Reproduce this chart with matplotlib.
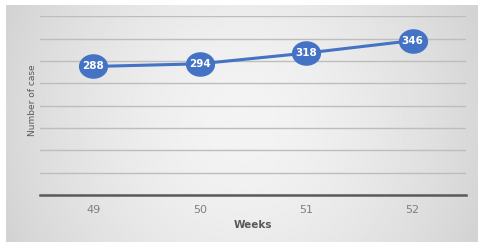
import matplotlib
matplotlib.use("Agg")
import matplotlib.pyplot as plt
import numpy as np
from matplotlib.path import Path

weeks = ["49", "50", "51", "52"]
cases = [288, 294, 318, 346]

LINE_COLOR = "#4472C4"
TEXT_COLOR = "#595959"

fig = plt.figure(figsize=(4.78, 2.42), dpi=100)
fig.patch.set_facecolor("white")

# Soft grey gradient behind the chart (lighter in the middle).
bg = fig.add_axes([6 / 478, 0, 1 - 6 / 478, 1 - 5 / 242])
xx, yy = np.meshgrid(np.linspace(-1, 1, 300), np.linspace(-1, 1, 150))
r = np.sqrt((xx * 0.95) ** 2 + (yy * 0.45) ** 2)
shade = 0.955 - 0.12 * np.clip(r, 0, 1.2) ** 1.6
bg.imshow(shade, cmap="gray", vmin=0, vmax=1, aspect="auto",
          extent=[0, 1, 0, 1], interpolation="bilinear")
bg.set_axis_off()

ax = fig.add_axes([40 / 478, (242 - 195) / 242, (466 - 40) / 478, (195 - 16.5) / 242])
ax.set_facecolor("none")

x = np.arange(len(weeks))
# Wide ellipse marker like the Office data labels.
t = np.linspace(0, 2 * np.pi, 60)
ellipse = Path(np.column_stack([1.2 * np.cos(t), np.sin(t)]))

ax.plot(x, cases, color=LINE_COLOR, lw=2.2, zorder=3)
ax.plot(x, cases, linestyle="none", marker=ellipse, ms=20,
        markerfacecolor=LINE_COLOR, markeredgecolor=LINE_COLOR, zorder=4)
for xi, v in zip(x, cases):
    ax.text(xi, v, str(v), color="white", fontsize=7.5, fontweight="bold",
            ha="center", va="center", zorder=5)

ax.set_xlim(-0.5, len(weeks) - 0.5)
ax.set_ylim(0, 400)
ax.set_yticks(range(0, 401, 50))
ax.set_yticklabels([])
ax.tick_params(axis="y", length=0)
ax.grid(axis="y", color="#bdbdbd", lw=1.0, zorder=0)
ax.set_xticks(x)
ax.set_xticklabels(weeks, color="#7f7f7f", fontsize=8)
ax.tick_params(axis="x", length=0, pad=7)

for side in ["top", "right", "left"]:
    ax.spines[side].set_visible(False)
ax.spines["bottom"].set_color("#5a5a5a")
ax.spines["bottom"].set_linewidth(1.8)

ax.set_xlabel("Weeks", color=TEXT_COLOR, fontsize=7.5, fontweight="bold", labelpad=4)
ax.set_ylabel("Number of case", color=TEXT_COLOR, fontsize=6.5)
ax.yaxis.set_label_coords(-3 / 426, 0.53)

fig.savefig("out.png", dpi=100)
